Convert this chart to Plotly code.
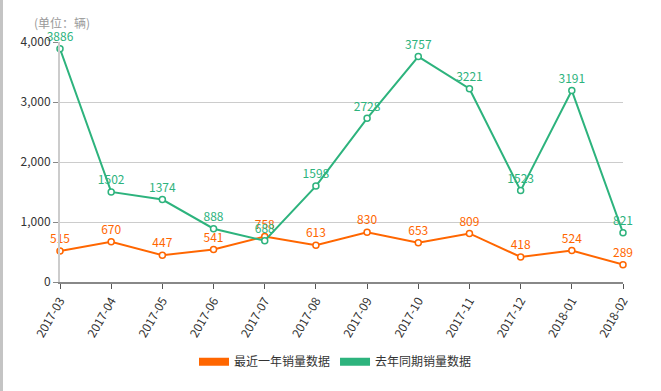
import plotly.graph_objects as go

months = ["2017-03", "2017-04", "2017-05", "2017-06", "2017-07", "2017-08",
          "2017-09", "2017-10", "2017-11", "2017-12", "2018-01", "2018-02"]
recent = [515, 670, 447, 541, 758, 613, 830, 653, 809, 418, 524, 289]
last_year = [3886, 1502, 1374, 888, 688, 1598, 2728, 3757, 3221, 1523, 3191, 821]
series_names = ["最近一年销量数据", "去年同期销量数据"]
colors = ["#ff6600", "#2db37d"]

FONT = "Noto Sans CJK SC, Liberation Sans, sans-serif"

fig = go.Figure()
for name, vals, c in zip(series_names, [recent, last_year], colors):
    fig.add_trace(go.Scatter(
        x=months, y=vals, mode="lines+markers+text", name=name,
        text=[str(v) for v in vals], textposition="top center",
        textfont=dict(color=c, size=12, family=FONT),
        line=dict(color=c, width=2),
        marker=dict(symbol="circle", size=6, color="white", line=dict(color=c, width=1.5)),
        cliponaxis=False, showlegend=False,
    ))
# legend swatches
for name, c in zip(series_names, colors):
    fig.add_trace(go.Scatter(x=[None], y=[None], mode="lines", name=name,
                             line=dict(color=c, width=8), showlegend=True))

fig.update_layout(
    width=661, height=391,
    margin=dict(l=60, r=38, t=42, b=109, autoexpand=False),
    paper_bgcolor="white", plot_bgcolor="white",
    font=dict(family=FONT, size=12, color="#333"),
    xaxis=dict(type="category", range=[0, 11], tickangle=-60, automargin=False,
               showline=True, linecolor="#888", linewidth=2,
               ticks="outside", ticklen=5, tickcolor="#555",
               showgrid=False, zeroline=False,
               tickfont=dict(size=12, color="#333")),
    yaxis=dict(range=[0, 4000], tickvals=[0, 1000, 2000, 3000, 4000], automargin=False,
               tickformat=",d", showline=True, linecolor="#ccc", linewidth=2,
               ticks="outside", ticklen=5, tickcolor="#888",
               showgrid=True, gridcolor="#ccc", gridwidth=1, zeroline=False,
               tickfont=dict(size=12, color="#333")),
    legend=dict(orientation="h", xref="container", yref="container",
                x=0.5 + 5 / 661, xanchor="center", y=0.075, yanchor="middle",
                font=dict(size=12, color="#333"), itemwidth=30),
    annotations=[dict(text="(单位：辆)", xref="paper", yref="paper",
                      x=(32 - 60) / 563, y=1 + 20 / 240, xanchor="left", yanchor="middle",
                      showarrow=False, font=dict(size=12, color="#999"))],
    shapes=[dict(type="line", xref="paper", yref="paper",
                 x0=(1.5 - 60) / 563, x1=(1.5 - 60) / 563,
                 y0=-109 / 240, y1=1 + 42 / 240,
                 line=dict(color="#c4c4c4", width=3))],
)

fig.write_html("out.html", config={"displayModeBar": False},
               post_script="document.body.style.margin='0';document.body.style.padding='0';")
